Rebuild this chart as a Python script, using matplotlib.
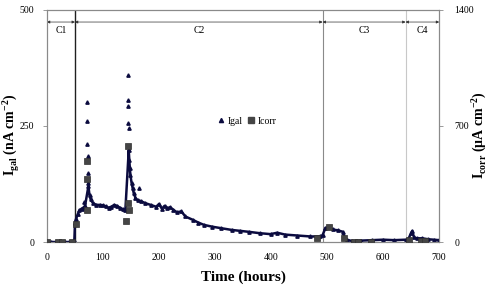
"""Galvanic and corrosion current versus time, C1-C4 stages."""
import matplotlib

matplotlib.use("Agg")
import matplotlib.pyplot as plt
from matplotlib.lines import Line2D

plt.rcParams["font.family"] = ["Liberation Serif", "DejaVu Serif"]
plt.rcParams["mathtext.fontset"] = "custom"
plt.rcParams["mathtext.rm"] = "Liberation Serif"
plt.rcParams["mathtext.bf"] = "Liberation Serif:bold"

# Igal, dense part of the record (hours, nA cm-2)
igal_t = [0, 8, 16, 24, 32, 40, 48, 49, 50, 52, 55, 58, 62, 66, 68, 74, 76, 78, 82,
          88, 95, 100, 105, 110, 115, 120, 125, 130, 135, 140, 146, 147, 148, 149,
          151, 153, 155, 158, 162, 168, 175, 185, 195, 200, 205, 210, 215, 220, 225,
          232, 240, 247, 260, 270, 280, 295, 310, 330, 345, 360, 380, 399, 411, 425,
          447, 470, 488, 492, 497, 503, 510, 520, 528, 531, 535, 545, 560, 580, 600,
          620, 640, 645, 650, 652, 655, 660, 670, 680, 690, 700]
igal_v = [0, 0, 0, 0, 0, 0, 0, 5, 40, 50, 60, 68, 72, 75, 78, 120, 101, 92, 84,
          80, 80, 79, 77, 74, 76, 80, 78, 74, 71, 69, 198, 177, 159, 144,
          128, 116, 105, 95, 90, 88, 84, 80, 76, 82, 72, 78, 73, 75, 70,
          64, 66, 55, 48, 42, 37, 33, 30, 26, 24, 22, 19, 17, 20, 16,
          14, 12, 12, 15, 30, 32, 27, 25, 22, 10, 5, 2, 3, 4, 5,
          4, 5, 6, 20, 24, 10, 8, 8, 6, 5, 4]

# Igal, isolated readings during the two spikes
spike_t = [67, 72, 72, 72, 73, 73, 73, 144, 144, 145, 145, 146, 165]
spike_v = [87, 302, 261, 211, 185, 149, 128, 360, 306, 292, 257, 246, 116]

# Icorr (hours, uA cm-2)
icorr_t = [0, 20, 27, 45, 51, 72, 72, 72, 142, 145, 145, 146, 482, 503, 530, 548,
           556, 578, 646, 668, 675]
icorr_v = [0, 0, 0, 0, 109, 487, 381, 193, 126, 580, 235, 193, 25, 92, 22, 3,
           3, 3, 11, 8, 8]

# stage boundaries (hours) and names
bounds = [0, 50, 492, 640, 700]
stages = ["C1", "C2", "C3", "C4"]

NAVY = "#0b0b3f"
GREY = "#8a8a8a"

fig = plt.figure(figsize=(4.94, 2.93), dpi=100)
ax = fig.add_axes([0.095, 0.174, 0.794, 0.792])
ax2 = ax.twinx()

ax.plot(igal_t, igal_v, color=NAVY, lw=1.8, marker="^", ms=2.4, zorder=3)
ax.plot(spike_t, spike_v, ls="none", color=NAVY, marker="^", ms=2.4, zorder=3)
ax2.plot(icorr_t, icorr_v, ls="none", marker="s", ms=4.6, color="#454545",
         markeredgecolor="#303030", mew=0.5, zorder=4)

ax.set_xlim(0, 700)
ax.set_ylim(0, 500)
ax2.set_ylim(0, 1400)
ax.set_xticks(range(0, 701, 100))
ax.set_yticks([0, 250, 500])
ax2.set_yticks([0, 700, 1400])

for a in (ax, ax2):
    for s in a.spines.values():
        s.set_color(GREY)
        s.set_linewidth(0.8)
    a.tick_params(labelsize=7, length=3, width=0.6, color=GREY, direction="out")
ax.tick_params(axis="x", length=0, pad=8)
ax.tick_params(axis="y", pad=6)
ax2.tick_params(axis="y", pad=8)

# stage dividers
ax.axvline(50, color="#202020", lw=1.0, zorder=2)
ax.axvline(492, color=GREY, lw=0.8, zorder=2)
ax.axvline(640, color="#c8c8c8", lw=0.8, zorder=2)

for i, name in enumerate(stages):
    x0, x1 = bounds[i], bounds[i + 1]
    ax.annotate("", xy=(x1, 474), xytext=(x0, 474),
                arrowprops=dict(arrowstyle="<|-|>", mutation_scale=4, color="#303030",
                                lw=0.5, shrinkA=0, shrinkB=0))
    ax.text((x0 + x1) / 2, 455, name, ha="center", va="center", fontsize=7)

ax.set_xlabel("Time (hours)", fontsize=11, fontweight="bold", labelpad=6)
fig.text(0.021, 0.54, r"I$_{\mathbf{gal}}$ (nA cm$^{\mathbf{-2}}$)", fontsize=10,
         fontweight="bold", rotation=90, ha="center", va="center")
fig.text(0.968, 0.54, r"I$_{\mathbf{corr}}$ ($\mathbf{\mu}$A cm$^{\mathbf{-2}}$)",
         fontsize=10, fontweight="bold", rotation=90, ha="center", va="center")

handles = [Line2D([], [], ls="none", marker="^", ms=3, color=NAVY),
           Line2D([], [], ls="none", marker="s", ms=5, color="#454545")]
ax.legend(handles, ["Igal", "Icorr"], loc="center", bbox_to_anchor=(0.51, 0.52),
          ncol=2, frameon=False, fontsize=7, handlelength=0.8, handletextpad=0.3,
          columnspacing=0.4)

fig.savefig("out.png", dpi=100, facecolor="white")
